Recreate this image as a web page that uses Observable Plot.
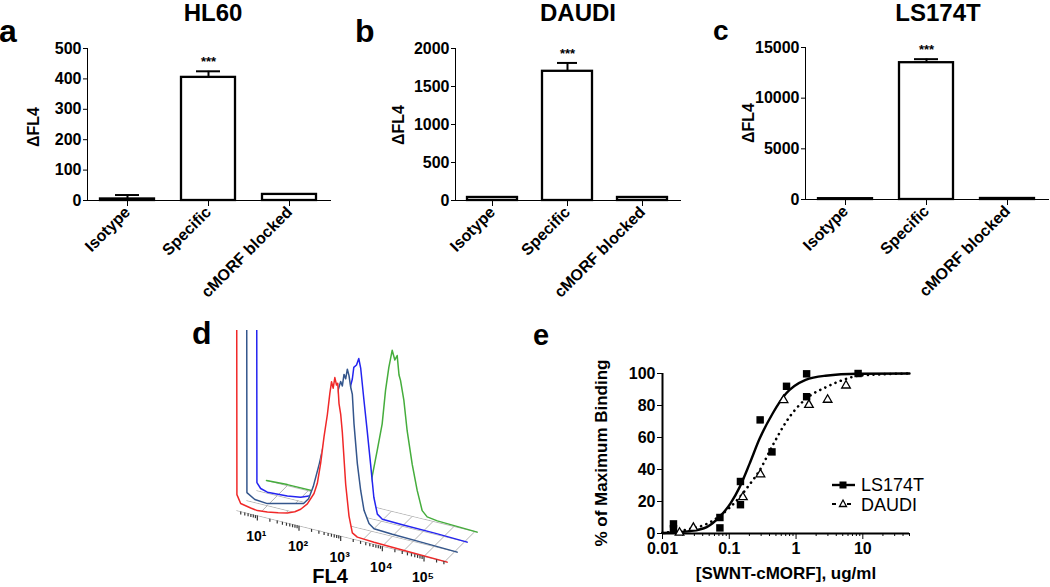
<!DOCTYPE html>
<html>
<head>
<meta charset="utf-8">
<script src="https://cdn.jsdelivr.net/npm/d3@7"></script>
<script src="https://cdn.jsdelivr.net/npm/@observablehq/plot@0.6"></script>
<style>
  html, body { margin: 0; padding: 0; background: white; }
  #wrap { position: relative; width: 1050px; height: 587px; background: white; overflow: hidden;
          font-family: "Liberation Sans", Arial, sans-serif; }
  #wrap > .pane { position: absolute; }
  #wrap svg { overflow: visible; }
</style>
</head>
<body>
<div id="wrap"></div>
<script>
// ---------------- DATA ----------------
const cats = ["Isotype", "Specific", "cMORF blocked"];

const hl60Mean  = [5, 405, 20];
const hl60Err   = [18, 425, 20];
const hl60Ticks = [0, 100, 200, 300, 400, 500];

const daudiMean  = [40, 1700, 40];
const daudiErr   = [40, 1810, 40];
const daudiTicks = [0, 500, 1000, 1500, 2000];

const lsMean  = [80, 13500, 100];
const lsErr   = [80, 13850, 100];
const lsTicks = [0, 5000, 10000, 15000];

// panel d: flow histograms, [log10 FL4, normalized height]
const histRed = [[0.5,400],[0.51,16],[0.6,8],[0.84,6],[1.0,5],[1.24,6],[1.5,8],[1.72,10],[1.9,13],[2.04,17],[2.2,24],[2.36,36],[2.44,47],[2.52,68],[2.6,95],[2.68,118],[2.74,140],[2.78,152],[2.82,146],[2.86,157],[2.9,150],[2.93,152],[2.96,132],[3.0,122],[3.04,104],[3.12,53],[3.2,22],[3.28,6],[3.4,3],[3.8,2],[4.5,1],[5.556,0]];
const histSlate = [[0.5,400],[0.51,8],[0.7,3],[1.0,2],[1.48,7],[1.87,11],[1.99,17],[2.1,30],[2.25,55],[2.4,85],[2.55,110],[2.68,130],[2.76,142],[2.8,138],[2.84,150],[2.88,146],[2.92,156],[2.96,150],[3.0,139],[3.04,132],[3.08,103],[3.16,64],[3.24,38],[3.32,19],[3.44,7],[3.56,3],[4.0,2],[4.8,1],[5.556,0]];
const histBlue = [[0.5,400],[0.51,8],[0.6,3],[0.76,1],[1.24,2],[1.56,4],[1.8,8],[2.0,14],[2.2,30],[2.4,60],[2.55,90],[2.7,118],[2.8,135],[2.835,147],[2.9,150],[2.955,157],[3.0,148],[3.075,118],[3.156,87],[3.236,55],[3.316,22],[3.4,6],[3.52,2],[4.0,1.5],[4.8,1],[5.556,0]];
const histGreen = [[0.5,0],[1.0,1],[2.0,1],[2.8,2],[2.9,8],[3.0,22],[3.156,57],[3.276,85],[3.356,119],[3.436,143],[3.476,152],[3.516,161],[3.58,152],[3.636,157],[3.68,138],[3.716,133],[3.796,114],[3.876,84],[3.996,52],[4.116,27],[4.236,8],[4.356,3],[4.6,1.5],[5.556,0]];
const fl4Decades = [1, 2, 3, 4, 5];
const fl4Labels  = ["10¹", "10²", "10³", "10⁴", "10⁵"];

// panel e: binding curves
const lsConc  = [0.0146, 0.0146, 0.0724, 0.0724, 0.147, 0.147, 0.29, 0.436, 0.72, 1.44, 1.44, 8.5];
const lsBind  = [6, 3, 10, 3.5, 32.5, 18, 71, 51, 92, 99.8, 85.5, 100];
const daConc  = [0.018, 0.029, 0.16, 0.293, 0.65, 1.56, 2.97, 5.6];
const daBind  = [0.5, 3.5, 22.7, 37, 83.4, 80.4, 83.6, 92.5];
const lsFitX  = [0.01, 0.026, 0.046, 0.072, 0.105, 0.143, 0.201, 0.283, 0.446, 0.703, 1.39, 2.76, 8.6, 50];
const lsFitY  = [0.3, 1.5, 4, 10.5, 19, 29, 43.5, 59, 75, 87.3, 96, 98.6, 99.8, 100];
const daFitX  = [0.01, 0.026, 0.046, 0.072, 0.143, 0.201, 0.283, 0.446, 0.703, 1.39, 2.76, 5.5, 8.6, 50];
const daFitY  = [0.5, 2.9, 6, 11, 22.7, 30.6, 39.3, 55, 69.5, 84, 91.3, 96.5, 98.6, 100];
const eTicks  = [0.01, 0.1, 1, 10];

// ---------------- LAYOUT ----------------
const wrap = document.getElementById("wrap");
const FONT = '"Liberation Sans", Arial, sans-serif';
function place(node, left, top) {
  node.classList.add("pane");
  node.style.left = left + "px";
  node.style.top = top + "px";
  wrap.appendChild(node);
}

function barPanel(mean, err, yMax, ticks, o) {
  const data = cats.map((c, i) => ({cat: c, v: mean[i], e: err[i]}));
  return Plot.plot({
    width: o.width, height: 300,
    marginLeft: o.ml, marginRight: o.mr, marginTop: o.mt, marginBottom: 300 - o.bottom,
    style: {fontFamily: FONT, fontSize: "16px", fontWeight: "bold", background: "transparent", color: "black"},
    x: {type: "band", domain: cats, paddingInner: 0.33, paddingOuter: 0.165, label: null,
        tickRotate: -45, tickSize: 6, tickPadding: 3, line: true},
    y: {domain: [0, yMax], ticks: ticks, tickFormat: d => String(d), label: null, line: true, tickSize: 4, tickPadding: 2},
    marks: [
      Plot.ruleX(data.filter(d => d.e > d.v), {x: "cat", y1: "v", y2: "e", strokeWidth: 2}),
      Plot.tickY(data.filter(d => d.e > d.v), {x: "cat", y: "e", strokeWidth: 2, insetLeft: 15, insetRight: 15}),
      Plot.barY(data, {x: "cat", y: "v", fill: "white", stroke: "black", strokeWidth: 2.3}),
      Plot.text(data.filter(d => d.cat === "Specific"), {x: "cat", y: "e", text: () => "***", dy: -9, fontSize: 13})
    ]
  });
}

place(barPanel(hl60Mean, hl60Err, 500, hl60Ticks, {width: 340, ml: 87, mr: 10, mt: 48, bottom: 200}), 0, 0);
place(barPanel(daudiMean, daudiErr, 2000, daudiTicks, {width: 340, ml: 115, mr: 0, mt: 48, bottom: 200}), 340, 0);
place(barPanel(lsMean, lsErr, 15000, lsTicks, {width: 370, ml: 125, mr: 2, mt: 47, bottom: 199}), 680, 0);

// ---- panel d : 3D offset histograms ----
const DX = 41.67, DEPTH = 10, SLOPE = 0.245;
const U = (l, d) => (l - 0.5) * DX + d * DEPTH;
const V = (l, d, h) => h + d * DEPTH - (l - 0.5) * DX * SLOPE;
const series = [
  {pts: histGreen, depth: 3, color: "#45ad3c"},
  {pts: histBlue,  depth: 2, color: "#2424f0"},
  {pts: histSlate, depth: 1, color: "#34568c"},
  {pts: histRed,   depth: 0, color: "#f02828"}
];
const gridLogs = d3.range(1, 5.51, 0.5);
const depths = [0, 1, 2, 3];
const tickLogs = [];
for (let e = 0; e <= 5; e++) for (let k = 1; k <= 9; k++) {
  const l = e + Math.log10(k);
  if (l >= 0.5 && l <= 5.556) tickLogs.push({l, major: k === 1});
}
const dMarks = [
  Plot.link(gridLogs, {x1: l => U(l, 0), y1: l => V(l, 0, 0), x2: l => U(l, 3), y2: l => V(l, 3, 0), stroke: "#b4b4b4", strokeWidth: 1}),
  Plot.link(depths, {x1: d => U(0.5, d), y1: d => V(0.5, d, 0), x2: d => U(5.556, d), y2: d => V(5.556, d, 0), stroke: "#b4b4b4", strokeWidth: 1})
];
for (const s of series) {
  dMarks.push(Plot.areaY(s.pts, {x: p => U(p[0], s.depth), y1: p => V(p[0], s.depth, 0), y2: p => V(p[0], s.depth, p[1]), fill: "white", clip: true}));
  dMarks.push(Plot.line(s.pts, {x: p => U(p[0], s.depth), y: p => V(p[0], s.depth, p[1]), stroke: s.color, strokeWidth: 1.5, clip: true}));
}
dMarks.push(
  Plot.link(tickLogs, {x1: t => U(t.l, 0), y1: t => V(t.l, 0, 0), x2: t => U(t.l, 0), y2: t => V(t.l, 0, 0) - (t.major ? 5 : 3), stroke: "#333", strokeWidth: 1.2}),
  Plot.text(fl4Decades, {x: l => U(l, 0), y: l => V(l, 0, 0), text: (l, i) => fl4Labels[i], dy: 21, dx: -1, fontSize: 14, fontWeight: "bold"})
);
place(Plot.plot({
  width: 300, height: 287, marginTop: 30, marginLeft: 40, marginRight: 0, marginBottom: 0,
  style: {fontFamily: FONT, background: "transparent", color: "black"},
  x: {domain: [0, 250], range: [46, 296], axis: null},
  y: {domain: [-60, 180], range: [270, 30], axis: null},
  marks: dMarks
}), 190, 300);

// ---- panel e : binding curves ----
const lsPts = lsConc.map((x, i) => ({x, y: lsBind[i]}));
const daPts = daConc.map((x, i) => ({x, y: daBind[i]}));
const lsFit = lsFitX.map((x, i) => ({x, y: lsFitY[i]}));
const daFit = daFitX.map((x, i) => ({x, y: daFitY[i]}));
const minorE = [];
for (let e = -2; e <= 1; e++) for (let k = 2; k <= 9; k++) { const v = k * Math.pow(10, e); if (v <= 50) minorE.push(+v.toPrecision(3)); }
place(Plot.plot({
  width: 550, height: 297, marginLeft: 162, marginRight: 141, marginTop: 83, marginBottom: 54,
  style: {fontFamily: FONT, fontSize: "16px", fontWeight: "bold", background: "transparent", color: "black"},
  x: {type: "log", domain: [0.01, 50], label: null},
  y: {domain: [0, 100], label: null},
  marks: [
    Plot.axisX({ticks: minorE, tickFormat: () => "", tickSize: 3}),
    Plot.axisX({ticks: eTicks, tickFormat: d => String(d), tickSize: 6, tickPadding: 3}),
    Plot.axisY({ticks: [0, 20, 40, 60, 80, 100], tickSize: 5, tickPadding: 2}),
    Plot.ruleY([0], {strokeWidth: 2}),
    Plot.ruleX([0.01], {strokeWidth: 2}),
    Plot.line(daFit, {x: "x", y: "y", curve: "monotone-x", stroke: "black", strokeWidth: 2.6, strokeDasharray: "0.1,5.5", strokeLinecap: "round"}),
    Plot.line(lsFit, {x: "x", y: "y", curve: "monotone-x", stroke: "black", strokeWidth: 2.4}),
    Plot.dot(daPts, {x: "x", y: "y", symbol: "triangle", r: 3.2, fill: "white", stroke: "black", strokeWidth: 1.3}),
    Plot.dot(lsPts, {x: "x", y: "y", symbol: "square", r: 4.2, fill: "black", stroke: "none"})
  ]
}), 500, 290);

// ---- overlay texts (titles, panel letters, axis titles, legend) ----
const ov = d3.create("svg").attr("width", 1050).attr("height", 587)
  .style("position", "absolute").style("left", "0px").style("top", "0px")
  .style("font-family", FONT).style("pointer-events", "none");
function txt(s, x, y, size, opt = {}) {
  const t = ov.append("text").attr("x", x).attr("y", y).attr("font-size", size)
    .attr("font-weight", opt.weight || "bold").attr("text-anchor", opt.anchor || "start").text(s);
  if (opt.rotate) t.attr("transform", `rotate(${opt.rotate},${x},${y})`).attr("dominant-baseline", "middle");
  return t;
}
txt("HL60", 213, 21, 24, {anchor: "middle"});
txt("DAUDI", 578, 21, 24, {anchor: "middle"});
txt("LS174T", 938, 21, 24, {anchor: "middle"});
txt("a", -1, 42, 32);
txt("b", 355, 42, 32);
txt("c", 713, 40, 28);
txt("d", 192, 344, 32);
txt("e", 533, 345, 29);
txt("ΔFL4", 35, 127, 16, {anchor: "middle", rotate: -90});
txt("ΔFL4", 400, 125, 16, {anchor: "middle", rotate: -90});
txt("ΔFL4", 750, 123, 16, {anchor: "middle", rotate: -90});
txt("FL4", 330, 583, 20, {anchor: "middle"});
txt("% of Maximum Binding", 603, 453, 17, {anchor: "middle", rotate: -90});
txt("[SWNT-cMORF], ug/ml", 786, 579, 17, {anchor: "middle"});
// legend
ov.append("line").attr("x1", 832).attr("x2", 855).attr("y1", 485).attr("y2", 485).attr("stroke", "black").attr("stroke-width", 2.4);
ov.append("rect").attr("x", 839.5).attr("y", 481.5).attr("width", 7).attr("height", 7).attr("fill", "black");
ov.append("line").attr("x1", 832).attr("x2", 855).attr("y1", 504).attr("y2", 504).attr("stroke", "black").attr("stroke-width", 2).attr("stroke-dasharray", "4,11");
ov.append("path").attr("d", "M843,500 L846.5,506.5 L839.5,506.5 Z").attr("fill", "white").attr("stroke", "black").attr("stroke-width", 1.3);
txt("LS174T", 861, 491, 18, {weight: "normal"});
txt("DAUDI", 861, 511, 18, {weight: "normal"});
wrap.appendChild(ov.node());
</script>
</body>
</html>
